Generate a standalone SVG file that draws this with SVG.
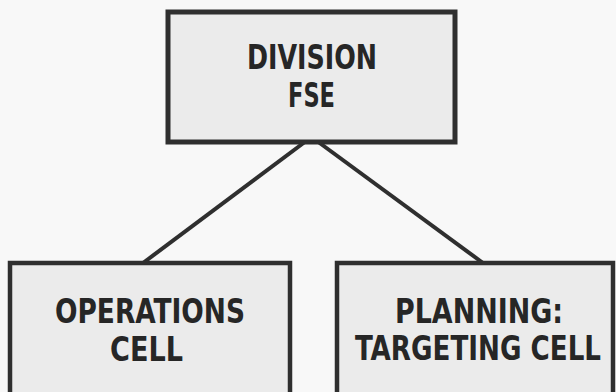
<svg xmlns="http://www.w3.org/2000/svg" width="616" height="392" viewBox="0 0 616 392">
  <defs>
    <style>
      .box { fill: #ebebeb; stroke: #2f2f2f; stroke-width: 4.5; }
      .conn { stroke: #2f2f2f; stroke-width: 4; fill: none; stroke-linecap: butt; }
      .lbl { font-family: "DejaVu Sans Condensed", "DejaVu Sans", "Liberation Sans", sans-serif; font-stretch: condensed; font-weight: bold; font-size: 33px; fill: #262626; text-anchor: middle; }
    </style>
  </defs>
  <rect x="0" y="0" width="616" height="392" fill="#f8f8f8"/>
  <g id="connectors">
    <line class="conn" x1="311.5" y1="137" x2="143" y2="263"/>
    <line class="conn" x1="311.5" y1="137" x2="483" y2="263"/>
  </g>
  <g id="division-fse">
    <rect class="box" x="168" y="12" width="287" height="130" style="stroke-width:5"/>
    <text class="lbl" x="312" y="69" textLength="130" lengthAdjust="spacingAndGlyphs">DIVISION</text>
    <text class="lbl" x="311.5" y="107" textLength="47" lengthAdjust="spacingAndGlyphs">FSE</text>
  </g>
  <g id="operations-cell">
    <rect class="box" x="10" y="263" width="280" height="145"/>
    <text class="lbl" x="150" y="323" textLength="190" lengthAdjust="spacingAndGlyphs">OPERATIONS</text>
    <text class="lbl" x="146.5" y="361" textLength="73" lengthAdjust="spacingAndGlyphs">CELL</text>
  </g>
  <g id="planning-targeting-cell">
    <rect class="box" x="337" y="263" width="276" height="145"/>
    <text class="lbl" x="479" y="323" textLength="168" lengthAdjust="spacingAndGlyphs">PLANNING:</text>
    <text class="lbl" x="478" y="360" textLength="246" lengthAdjust="spacingAndGlyphs">TARGETING CELL</text>
  </g>
</svg>
